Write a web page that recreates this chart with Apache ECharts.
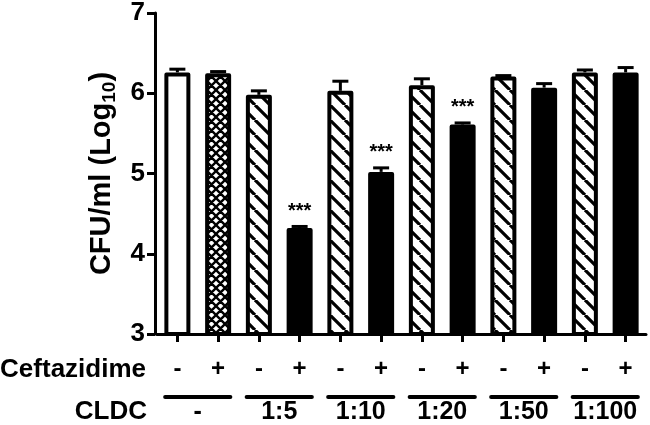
<!DOCTYPE html>
<html><head><meta charset="utf-8">
<script src="https://cdn.jsdelivr.net/npm/echarts@6/dist/echarts.min.js"></script>
<style>html,body{margin:0;padding:0;background:#fff}#c{width:650px;height:425px}</style>
</head><body><div id="c"></div>
<script>
// ---- data ----
const ceftazidime = ['-','+','-','+','-','+','-','+','-','+','-','+'];
const cldcGroups = ['-','1:5','1:10','1:20','1:50','1:100'];
const cfuLog = [6.26,6.25,5.98,4.32,6.03,5.02,6.10,5.61,6.21,6.07,6.26,6.26];
const sem    = [0.04,0.02,0.05,0.02,0.12,0.05,0.08,0.02,0.01,0.05,0.03,0.06];
const signif = ['','','','***','','***','','***','','','',''];
const fillKind = ['open','cross','hatch','solid','hatch','solid','hatch','solid','hatch','solid','hatch','solid'];
const yTickMin = 3, yTickMax = 7, yTickStep = 1;

const FONT = '"Liberation Sans", Arial, sans-serif';

function makePattern(kind){
  const c = document.createElement('canvas');
  const g = c.getContext('2d');
  if (kind === 'hatch'){
    const s = 15; c.width = s; c.height = s;
    g.fillStyle = '#fff'; g.fillRect(0,0,s,s);
    g.strokeStyle = '#000'; g.lineWidth = 3.2; g.beginPath();
    for (let k=-1;k<=1;k++){ g.moveTo(k*s,0); g.lineTo(k*s+s,s); }
    g.stroke();
  } else {
    const s = 9; c.width = s; c.height = s;
    g.fillStyle = '#fff'; g.fillRect(0,0,s,s);
    g.strokeStyle = '#000'; g.lineWidth = 2.4; g.beginPath();
    for (let k=-1;k<=1;k++){
      g.moveTo(k*s,0); g.lineTo(k*s+s,s);
      g.moveTo(k*s+s,0); g.lineTo(k*s,s);
    }
    g.stroke();
  }
  return {image: c, repeat: 'repeat'};
}
const fills = {
  open: '#ffffff',
  solid: '#000000',
  hatch: makePattern('hatch'),
  cross: makePattern('cross')
};

const chart = echarts.init(document.getElementById('c'), null, {renderer:'canvas'});
const option = {
  animation: false,
  backgroundColor: '#fff',
  grid: {left: 157, right: 4, top: 10, bottom: 89},
  xAxis: [{
    type: 'category',
    data: ceftazidime,
    axisLine: {show: true, lineStyle: {color:'#000', width: 3}},
    axisTick: {show: true, alignWithLabel: true, length: 8, lineStyle: {color:'#000', width: 3}},
    axisLabel: {color:'#000', fontFamily: FONT, fontWeight:'bold', fontSize: 24, margin: 23, interval: 0}
  },{
    type: 'category',
    data: cldcGroups,
    position: 'bottom',
    axisLine: {show: false},
    axisTick: {show: false},
    axisLabel: {color:'#000', fontFamily: FONT, fontWeight:'bold', fontSize: 25, margin: 66, interval: 0}
  }],
  yAxis: {
    type: 'value',
    min: yTickMin, max: yTickMax, interval: yTickStep,
    offset: 2,
    name: '{a|CFU/ml (Log}{b|10}{a|)}',
    nameLocation: 'middle',
    nameGap: 33,
    nameTextStyle: {
      rich: {
        a: {fontFamily: FONT, fontWeight:'bold', fontSize: 29, lineHeight: 36, color:'#000'},
        b: {fontFamily: FONT, fontWeight:'bold', fontSize: 19, lineHeight: 19, verticalAlign:'bottom', color:'#000'}
      }
    },
    axisLine: {show: true, lineStyle: {color:'#000', width: 3}},
    axisTick: {show: true, length: 8, lineStyle: {color:'#000', width: 3}},
    axisLabel: {color:'#000', fontFamily: FONT, fontWeight:'bold', fontSize: 26, margin: 10},
    splitLine: {show: false}
  },
  series: [{
    type: 'bar',
    barWidth: 26,
    data: cfuLog.map((v,i)=>({
      value: v,
      itemStyle: {color: fills[fillKind[i]], borderColor:'#000', borderWidth: 4, borderJoin:'round'}
    })),
    z: 2
  },{
    type: 'custom',
    xAxisIndex: 0,
    clip: false,
    silent: true,
    z: 3,
    data: cfuLog.map((v,i)=>[i, v, v + sem[i]]),
    renderItem: function(params, api){
      const i = api.value(0);
      const p0 = api.coord([i, api.value(1)]);
      const p1 = api.coord([i, api.value(2)]);
      const children = [
        {type:'line', shape:{x1:p0[0], y1:p0[1], x2:p1[0], y2:p1[1]}, style:{stroke:'#000', lineWidth:3}},
        {type:'line', shape:{x1:p1[0]-8, y1:p1[1], x2:p1[0]+8, y2:p1[1]}, style:{stroke:'#000', lineWidth:3}}
      ];
      if (signif[i]) {
        children.push({type:'text', style:{text: signif[i], x: p1[0], y: p1[1]-15,
          textAlign:'center', textVerticalAlign:'middle', font: 'bold 20px ' + FONT, fill:'#000'}});
      }
      return {type:'group', children};
    }
  },{
    type: 'custom',
    xAxisIndex: 1,
    clip: false,
    silent: true,
    data: cldcGroups.map((g,i)=>[i, yTickMin]),
    renderItem: function(params, api){
      const p = api.coord([api.value(0), api.value(1)]);
      const w = api.size([1,0])[0] * 0.8;
      return {type:'line', shape:{x1:p[0]-w/2, y1:p[1]+63, x2:p[0]+w/2, y2:p[1]+63},
        style:{stroke:'#000', lineWidth:4, lineCap:'round'}};
    }
  }],
  graphic: [
    {type:'text', right: 650-146, top: 357, style:{text:'Ceftazidime', font:'bold 26px ' + FONT, fill:'#000', textAlign:'right'}},
    {type:'text', right: 650-147, top: 399, style:{text:'CLDC', font:'bold 26px ' + FONT, fill:'#000', textAlign:'right'}}
  ]
};
chart.setOption(option);
</script>
</body></html>
